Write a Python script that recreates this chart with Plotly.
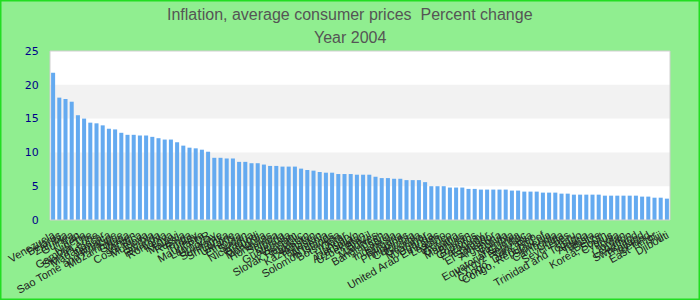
import plotly.graph_objects as go

countries = [
    "Venezuela", "Belarus", "Zambia", "Guinea", "Iran", "Nigeria", "Gambia, The", "Sierra Leone",
    "Madagascar", "Jamaica", "Sao Tome and Principe", "Mozambique", "Ghana", "Yemen", "Costa Rica",
    "Moldova", "Serbia", "Rwanda", "Romania", "Kenya", "Malawi", "Russia", "Tonga", "Turkey",
    "Mauritania", "Lao PDR", "Uruguay", "Suriname", "Sri Lanka", "Ukraine", "Ethiopia", "Sudan",
    "Nicaragua", "Burundi", "Mongolia", "Honduras", "Samoa", "Liberia", "Guatemala", "Vietnam",
    "Slovak Republic", "Pakistan", "Kazakhstan", "Tajikistan", "Armenia", "Solomon Islands",
    "Botswana", "Qatar", "Hungary", "Azerbaijan", "Uzbekistan", "Brazil", "Maldives", "Bangladesh",
    "Latvia", "Indonesia", "Bulgaria", "Philippines", "Colombia", "Georgia", "Myanmar", "Uganda",
    "United Arab Emirates", "Lesotho", "Mexico", "Guyana", "Mauritius", "Bhutan", "Comoros",
    "Paraguay", "Ecuador", "El Salvador", "Argentina", "Bolivia", "Namibia", "Equatorial Guinea",
    "Kyrgyz Republic", "Tanzania", "Congo, Dem. Rep.", "Congo, Republic of", "Slovenia", "Cambodia",
    "China", "Seychelles", "Peru", "Trinidad and Tobago", "Algeria", "Tunisia", "Belize",
    "Korea, South", "Cyprus", "India", "Jordan", "Lebanon", "Swaziland", "Thailand", "Iceland",
    "East Timor", "Fiji", "Djibouti",
]

inflation = [
    21.8, 18.1, 17.9, 17.5, 15.5, 15.0, 14.4, 14.3, 14.0, 13.5,
    13.4, 12.9, 12.6, 12.6, 12.5, 12.5, 12.3, 12.1, 11.9, 11.9,
    11.5, 11.0, 10.7, 10.6, 10.4, 10.1, 9.2, 9.2, 9.1, 9.1,
    8.6, 8.6, 8.4, 8.4, 8.2, 8.0, 8.0, 7.9, 7.9, 7.9,
    7.6, 7.4, 7.3, 7.1, 7.0, 7.0, 6.8, 6.8, 6.8, 6.7,
    6.7, 6.7, 6.4, 6.2, 6.2, 6.1, 6.1, 5.9, 5.9, 5.9,
    5.6, 5.0, 5.0, 5.0, 4.8, 4.8, 4.8, 4.6, 4.6, 4.5,
    4.5, 4.5, 4.5, 4.5, 4.35, 4.35, 4.2, 4.2, 4.2, 4.05,
    4.05, 4.05, 3.9, 3.9, 3.75, 3.75, 3.75, 3.75, 3.75, 3.6,
    3.6, 3.6, 3.6, 3.6, 3.6, 3.46, 3.46, 3.3, 3.3, 3.16,
]

title_line1 = "Inflation, average consumer prices  Percent change"
title_line2 = "Year 2004"
y_max = 25
band_ranges = [(5, 10), (15, 20)]

W, H = 700, 300
ml, mr, mt, mb = 50, 30, 51, 80
pw, ph = W - ml - mr, H - mt - mb

fig = go.Figure()
fig.add_trace(go.Bar(
    x=countries, y=inflation,
    marker=dict(color="rgb(100,170,240)", line=dict(width=0)),
))

shapes = []
for lo, hi in band_ranges:
    shapes.append(dict(type="rect", xref="paper", yref="y", x0=0, x1=1, y0=lo, y1=hi,
                       fillcolor="#f2f2f2", line=dict(width=0), layer="below"))
shapes.append(dict(type="rect", xref="paper", yref="paper", x0=0, x1=1, y0=0, y1=1,
                   line=dict(color="#d0d0d0", width=1), fillcolor="rgba(0,0,0,0)"))
shapes.append(dict(type="rect", xref="paper", yref="paper",
                   x0=-ml / pw + 0.0008, x1=1 + mr / pw - 0.0008,
                   y0=-mb / ph + 0.003, y1=1 + mt / ph - 0.003,
                   line=dict(color="#22dd22", width=2), fillcolor="rgba(0,0,0,0)"))

title_font = dict(family="Liberation Sans, Arial", size=16, color="#555555")
annotations = [
    dict(text=title_line1, xref="paper", yref="paper", x=(350 - ml) / pw, y=1 + (mt - 14) / ph,
         xanchor="center", yanchor="middle", showarrow=False, font=title_font),
    dict(text=title_line2, xref="paper", yref="paper", x=(350 - ml) / pw, y=1 + (mt - 37) / ph,
         xanchor="center", yanchor="middle", showarrow=False, font=title_font),
]

fig.update_layout(
    width=W, height=H,
    margin=dict(l=ml, r=mr, t=mt, b=mb, pad=0),
    paper_bgcolor="#90ee90",
    plot_bgcolor="white",
    showlegend=False,
    bargap=0.35,
    shapes=shapes,
    annotations=annotations,
    xaxis=dict(type="category", tickangle=-30, showgrid=False, automargin=False,
               tickmode="array", tickvals=countries, ticktext=countries,
               tickfont=dict(family="Liberation Sans, Arial", size=11, color="#222222"),
               ticks="", showline=False, ticklabelstandoff=6),
    yaxis=dict(range=[0, y_max], dtick=5, showgrid=False, zeroline=False, automargin=False,
               tickfont=dict(family="DejaVu Sans, Verdana", size=11, color="#00008b"),
               ticks="outside", ticklen=8, tickcolor="rgba(0,0,0,0)", showline=False),
)

fig.write_html("out.html")
